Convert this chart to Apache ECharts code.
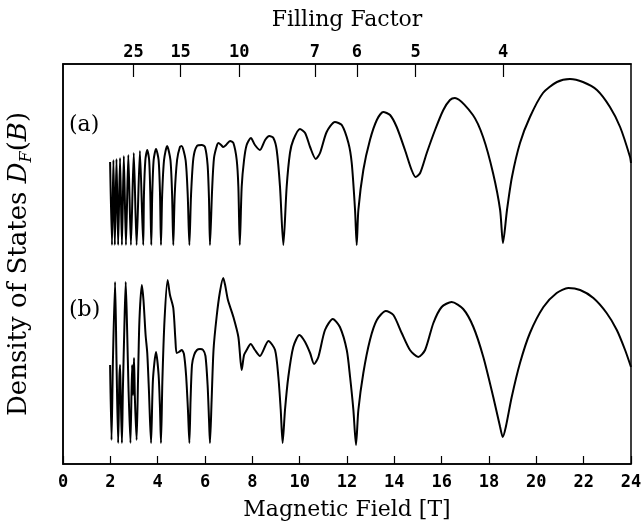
<!DOCTYPE html>
<html>
<head>
<meta charset="utf-8">
<script src="https://cdn.jsdelivr.net/npm/echarts@6/dist/echarts.min.js"></script>
<style>
html,body{margin:0;padding:0;background:#fff;}
#chart{width:642px;height:532px;}
</style>
</head>
<body>
<div id="chart"></div>
<script>
// Bottom axis ticks (Magnetic field, T)
const fieldTicks = [0,2,4,6,8,10,12,14,16,18,20,22,24];
// Top axis: filling factor labels and the field (T) at which each tick sits
const fillingLabels = ['25','15','10','7','6','5','4'];
const fillingTickB = [2.98, 4.97, 7.45, 10.64, 12.42, 14.90, 18.60];

// Curve (a): magnetic field (T) and density of states (arbitrary units, offset)
const bFieldA = [1.99,2.07,2.13,2.19,2.26,2.33,2.41,2.49,2.57,2.66,2.76,2.87,2.99,3.11,3.25,3.39,
3.42,3.48,3.56,3.64,3.69,3.73,3.77,3.83,3.93,4.04,4.10,4.14,4.19,4.27,4.40,4.54,4.61,4.66,
4.72,4.82,4.94,5.01,5.18,5.27,5.34,5.41,5.51,5.66,5.87,6.00,6.11,6.17,6.21,6.30,6.38,6.51,
6.57,6.68,6.77,6.89,7.06,7.20,7.34,7.41,7.47,7.55,7.65,7.76,7.94,8.11,8.32,8.54,8.72,8.89,
9.03,9.17,9.31,9.45,9.59,9.73,10.01,10.23,10.44,10.68,10.86,11.14,11.49,11.78,12.06,12.20,
12.34,12.41,12.48,12.69,12.97,13.26,13.53,13.82,14.10,14.45,14.73,14.90,15.09,15.37,15.72,
16.07,16.35,16.56,17.32,17.75,18.17,18.47,18.59,18.76,18.97,19.31,19.73,20.28,20.87,
21.42,21.97,22.56,23.11,23.54,23.96,24.00];
const dosA = [302,219,304,219,305,219,306,219,308,219,309,219,311,219,313,219,
269,304,314,304,269,219,269,304,315,304,269,219,269,304,318,304,269,219,
269,304,317,318,304,269,219,269,306,318,319,317,299,264,219,274,306,319,
321,319,317,319,323,321,304,277,219,277,304,319,326,319,314,324,328,326,
314,277,219,277,311,324,335,331,317,305,311,332,342,339,321,301,
254,219,254,294,324,344,352,349,337,314,294,287,291,311,334,
354,364,366,349,327,291,254,221,254,287,321,347,371,382,
385,382,374,357,337,307,301];

// Curve (b)
const bFieldB = [1.99,2.05,2.11,2.20,2.26,2.33,2.38,2.41,2.44,2.49,2.53,2.59,2.65,2.71,2.77,2.85,
2.92,2.96,3.00,3.04,3.11,3.17,3.23,3.33,3.40,3.49,3.56,3.63,3.72,3.80,3.93,4.04,4.10,4.14,
4.20,4.29,4.42,4.52,4.66,4.75,4.80,4.90,5.02,5.11,5.20,5.28,5.34,5.39,5.45,5.54,5.66,5.79,
5.92,6.02,6.11,6.17,6.21,6.28,6.36,6.49,6.63,6.77,6.85,6.97,7.20,7.41,7.55,7.65,7.76,7.93,
8.11,8.32,8.68,8.96,9.10,9.20,9.28,9.38,9.52,9.73,9.99,10.23,10.44,10.61,10.79,11.07,11.40,
11.70,11.99,12.13,12.27,12.38,12.48,12.69,12.97,13.26,13.64,13.96,14.31,14.66,15.01,15.30,
15.65,16.00,16.42,16.91,17.34,17.76,18.18,18.47,18.58,18.71,18.96,19.31,19.73,20.30,20.86,
21.35,21.85,22.41,22.97,23.40,23.75,24.00];
const dosB = [99,24,104,182,104,21,84,99,69,21,74,134,182,134,74,21,
99,69,106,64,24,84,144,179,164,129,111,74,21,84,112,89,54,21,
84,144,184,169,156,124,111,112,114,110,89,54,21,64,99,109,114,115,
114,108,79,44,21,64,114,147,172,186,179,164,147,127,94,109,114,120,
114,108,123,114,87,54,21,54,87,117,129,122,111,100,107,134,145,
137,114,87,54,19,54,91,124,144,153,149,131,114,107,114,
141,157,162,155,137,107,67,37,27,37,67,101,131,157,171,
176,174,166,151,134,114,97];

function pairs(xs, ys){ return xs.map((x,i)=>[x, ys[i]]); }

const chart = echarts.init(document.getElementById('chart'), null, {renderer:'canvas'});
const monoFont = 'DejaVu Sans Mono';
const serifFont = 'DejaVu Serif';

chart.setOption({
  animation: false,
  backgroundColor: '#fff',
  grid: {left: 63, right: 11, top: 64, bottom: 68, show: true, borderColor: '#000', borderWidth: 1.5,
    containLabel: false, outerBoundsMode: 'none'},
  xAxis: [
    {
      type: 'value', position: 'bottom', min: 0, max: 24, interval: 2,
      axisLine: {show: true, lineStyle: {color: '#000', width: 1.5}},
      axisTick: {show: true, inside: true, length: 8, lineStyle: {color: '#000', width: 1.2}},
      axisLabel: {color: '#000', fontFamily: monoFont, fontSize: 17, fontWeight: 'bold', margin: 10,
        formatter: v => fieldTicks.indexOf(v) >= 0 ? String(v) : ''},
      splitLine: {show: false},
      name: 'Magnetic Field [T]', nameLocation: 'middle', nameGap: 35,
      nameTextStyle: {fontFamily: serifFont, fontSize: 22, color: '#000'}
    },
    {
      type: 'value', position: 'top', min: 0, max: 24,
      axisLine: {show: true, lineStyle: {color: '#000', width: 1.5}},
      axisTick: {show: true, inside: true, length: 13, customValues: fillingTickB,
        lineStyle: {color: '#000', width: 1.2}},
      axisLabel: {show: true, color: '#000', fontFamily: monoFont, fontSize: 17, fontWeight: 'bold', margin: 3,
        customValues: fillingTickB,
        formatter: v => { const i = fillingTickB.indexOf(v); return i >= 0 ? fillingLabels[i] : ''; }},
      splitLine: {show: false},
      name: 'Filling Factor', nameLocation: 'middle', nameGap: 33,
      nameTextStyle: {fontFamily: serifFont, fontSize: 22, color: '#000'}
    }
  ],
  yAxis: [{
    type: 'value', min: 0, max: 400,
    axisLine: {show: true, lineStyle: {color: '#000', width: 1.5}},
    axisTick: {show: false}, axisLabel: {show: false}, splitLine: {show: false},
    name: '{r|Density of States }{i|D}{s|F}{r|(}{i|B}{r|)}',
    nameLocation: 'middle', nameGap: 28, nameRotate: 90,
    nameTextStyle: {
      color: '#000',
      rich: {
        r: {fontFamily: serifFont, fontSize: 26, color: '#000', lineHeight: 32},
        i: {fontFamily: serifFont, fontSize: 26, fontStyle: 'italic', color: '#000', lineHeight: 32},
        s: {fontFamily: serifFont, fontSize: 16, fontStyle: 'italic', color: '#000', lineHeight: 32, verticalAlign: 'bottom'}
      }
    }
  }],
  graphic: [
    {type: 'text', left: 69, top: 114, style: {text: '(a)', font: '22px "DejaVu Serif"', fill: '#000'}},
    {type: 'text', left: 69, top: 299, style: {text: '(b)', font: '22px "DejaVu Serif"', fill: '#000'}}
  ],
  series: [
    {type: 'line', name: '(a)', xAxisIndex: 0, data: pairs(bFieldA, dosA), showSymbol: false, smooth: 0.25,
      lineStyle: {color: '#000', width: 2}},
    {type: 'line', name: '(b)', xAxisIndex: 0, data: pairs(bFieldB, dosB), showSymbol: false, smooth: 0.25,
      lineStyle: {color: '#000', width: 2}}
  ]
});
</script>
</body>
</html>
